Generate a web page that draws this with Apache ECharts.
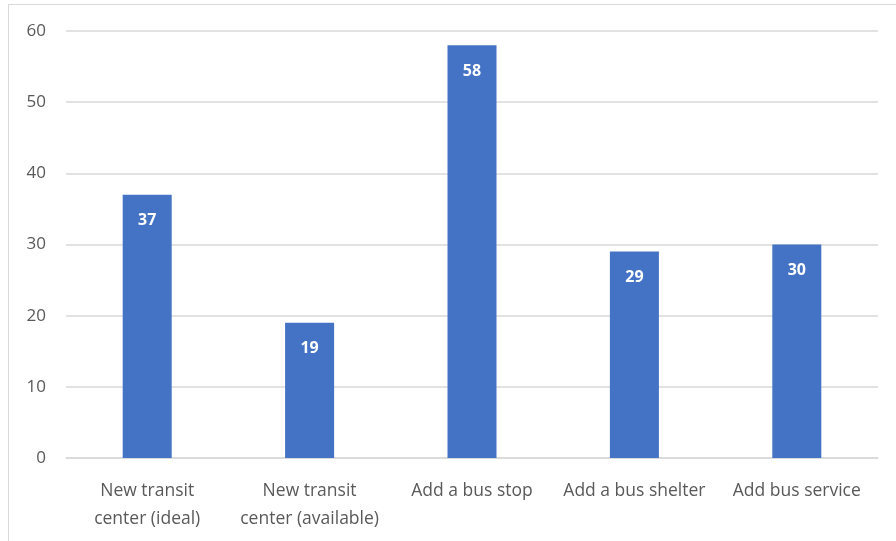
<!DOCTYPE html>
<html><head><meta charset="utf-8">
<script src="https://cdn.jsdelivr.net/npm/echarts@6/dist/echarts.min.js"></script>
<style>html,body{margin:0;padding:0;background:#fff}#c{width:896px;height:541px}
#frame{position:absolute;left:8px;top:4px;width:890px;height:540px;border:1px solid #d9d9d9;box-sizing:border-box;pointer-events:none}</style>
</head><body><div id="c"></div><div id="frame"></div>
<script>
const categories = ['New transit\ncenter (ideal)', 'New transit\ncenter (available)', 'Add a bus stop', 'Add a bus shelter', 'Add bus service'];
const values = [37, 19, 58, 29, 30];
const chart = echarts.init(document.getElementById('c'));
chart.setOption({
  animation: false,
  grid: {left: 66, right: 18, top: 31, bottom: 83},
  xAxis: {type: 'category', data: categories,
    axisLine: {lineStyle: {color: '#d9d9d9', width: 1.5}}, axisTick: {show: false},
    axisLabel: {color: '#595959', fontSize: 17.5, fontFamily: 'Open Sans', lineHeight: 28, margin: 19, interval: 0}},
  yAxis: {type: 'value', min: 0, max: 60, interval: 10,
    axisLine: {show: false}, axisTick: {show: false},
    splitLine: {lineStyle: {color: '#d9d9d9', width: 1.5}},
    axisLabel: {color: '#595959', fontSize: 17, fontFamily: 'Open Sans', margin: 20}},
  series: [{type: 'bar', data: values, barWidth: 49,
    itemStyle: {color: '#4472c4'},
    label: {show: true, position: 'insideTop', distance: 18, color: '#fff', fontWeight: 'bold', fontSize: 16, fontFamily: 'Open Sans'}}]
});
</script></body></html>
